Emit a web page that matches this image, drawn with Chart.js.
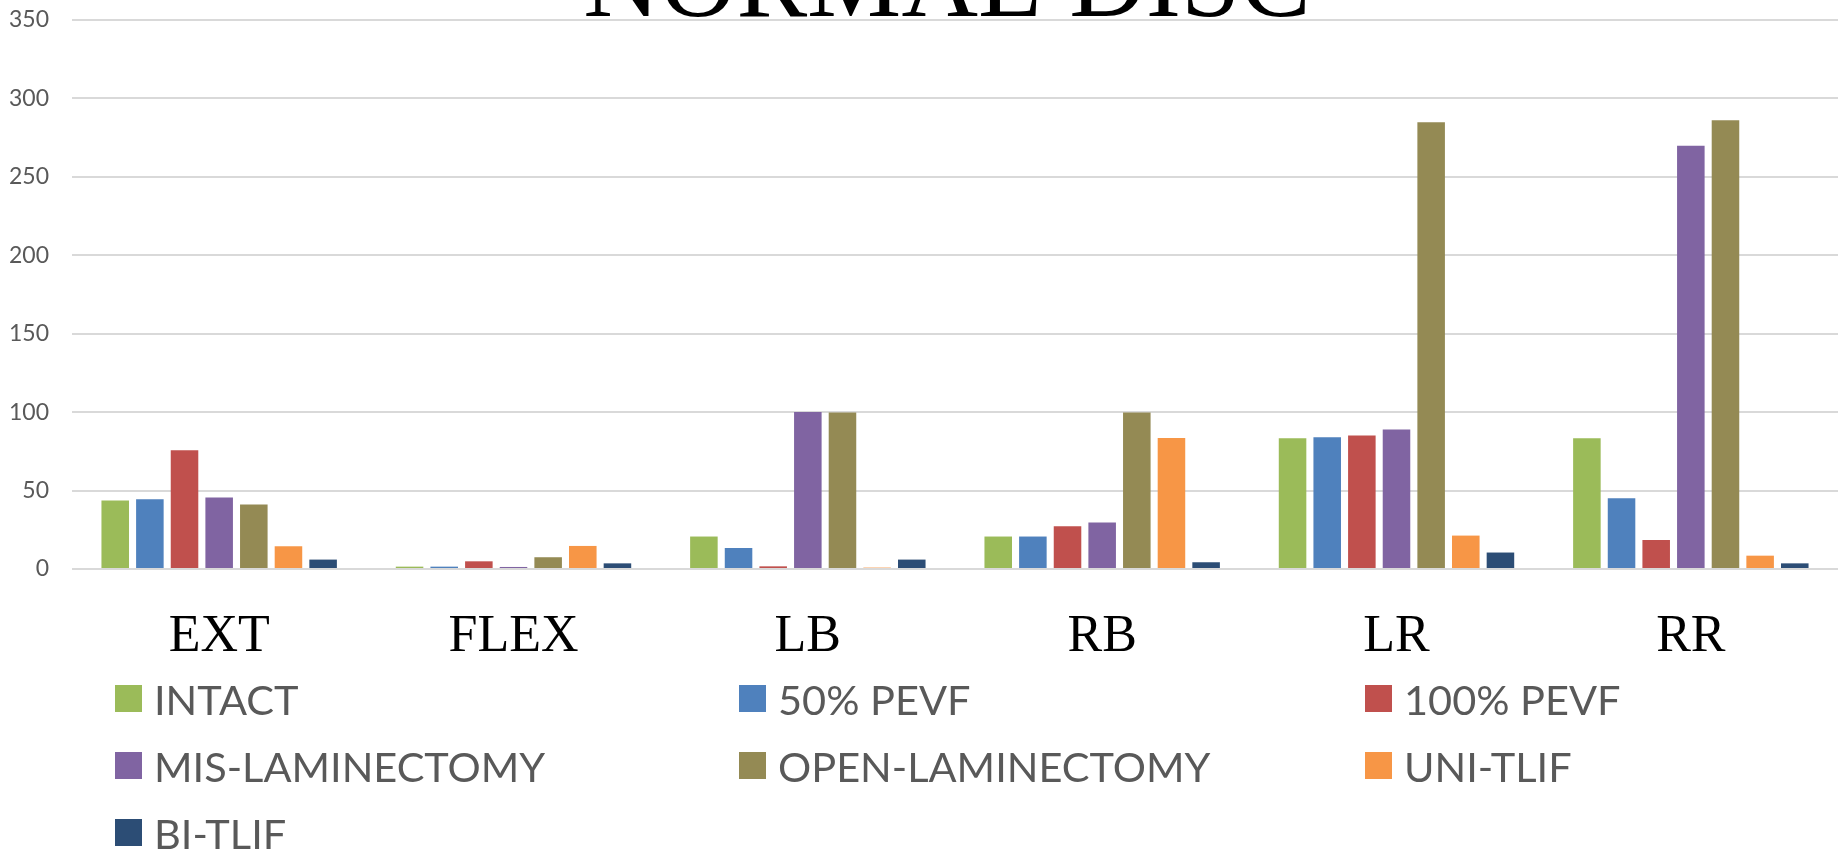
<!DOCTYPE html>
<html>
<head>
<meta charset="utf-8">
<script src="https://cdn.jsdelivr.net/npm/chart.js@4"></script>
<style>
  html, body { margin: 0; padding: 0; background: #fff; }
  #wrap { position: relative; width: 1845px; height: 849px; overflow: hidden; }
  #legend {
    position: absolute; left: 115px; top: 665px;
    display: grid; grid-template-columns: 624px 626px 400px; grid-auto-rows: 67px;
    font-family: Lato, "Liberation Sans", sans-serif;
    font-size: 41.5px; color: #595959;
  }
  .item { display: flex; align-items: center; white-space: nowrap; }
  .box { width: 27px; height: 27px; margin-right: 12px; flex: none; }
</style>
</head>
<body>
<div id="wrap">
  <canvas id="chart" width="1845" height="849"></canvas>
  <div id="legend"></div>
</div>
<script>
const categories = ['EXT', 'FLEX', 'LB', 'RB', 'LR', 'RR'];
const yTicks = [0, 50, 100, 150, 200, 250, 300, 350];

const intact = [43.6, 1.5, 20.7, 20.7, 83.3, 83.3];
const pevf50 = [44.4, 1.5, 13.4, 20.7, 84.0, 45.1];
const pevf100 = [75.7, 4.9, 1.7, 27.2, 85.1, 18.5];
const misLam = [45.6, 1.3, 100.1, 29.6, 89.0, 269.9];
const openLam = [41.1, 7.5, 99.7, 99.7, 284.8, 286.1];
const uniTlif = [14.5, 14.7, 0.9, 83.5, 21.3, 8.5];
const biTlif = [6.0, 3.6, 6.0, 4.3, 10.5, 3.6];

const series = [
    { label: 'INTACT', data: intact, color: '#9BBB59' },
    { label: '50% PEVF', data: pevf50, color: '#4F81BD' },
    { label: '100% PEVF', data: pevf100, color: '#C0504D' },
    { label: 'MIS-LAMINECTOMY', data: misLam, color: '#8064A2' },
    { label: 'OPEN-LAMINECTOMY', data: openLam, color: '#948A54' },
    { label: 'UNI-TLIF', data: uniTlif, color: '#F79646' },
    { label: 'BI-TLIF', data: biTlif, color: '#2C4D75' }
];

// title is cut off at the top in the original
const cutTitle = {
    id: 'cutTitle',
    afterDraw(chart) {
        const ctx = chart.ctx;
        ctx.save();
        ctx.font = '106px "Liberation Serif", "Times New Roman", serif';
        ctx.fillStyle = '#000';
        ctx.textAlign = 'center';
        ctx.textBaseline = 'alphabetic';
        ctx.fillText('NORMAL DISC', 947, 16);
        ctx.restore();
    }
};

const ctx = document.getElementById('chart').getContext('2d');
const chart = new Chart(ctx, {
    type: 'bar',
    data: {
        labels: categories,
        datasets: series.map(s => ({
            label: s.label,
            data: s.data,
            backgroundColor: s.color,
            borderWidth: 0,
            categoryPercentage: 0.824,
            barPercentage: 0.795
        }))
    },
    options: {
        responsive: false,
        animation: false,
        layout: { padding: { top: 20, right: 7, left: 0, bottom: 170 } },
        plugins: {
            legend: { display: false },
            tooltip: { enabled: false }
        },
        scales: {
            x: {
                grid: { display: false },
                border: { display: false },
                ticks: {
                    padding: 29,
                    color: '#000',
                    font: { family: '"Liberation Serif", "Times New Roman", serif', size: 52 }
                },
                afterFit: scale => { scale.height = 110; }
            },
            y: {
                min: 0,
                max: 350,
                afterBuildTicks: scale => { scale.ticks = yTicks.map(v => ({ value: v })); },
                grid: { color: '#D9D9D9', lineWidth: 2, drawTicks: false },
                border: { display: false },
                ticks: {
                    padding: 23,
                    color: '#595959',
                    font: { family: 'Lato, "Liberation Sans", sans-serif', size: 23 }
                },
                afterFit: scale => {
                    scale.width = 72;
                    scale.paddingTop = 0;
                    scale.paddingBottom = 0;
                }
            }
        }
    },
    plugins: [cutTitle]
});

const legend = document.getElementById('legend');
chart.data.datasets.forEach(ds => {
    const item = document.createElement('div');
    item.className = 'item';
    const box = document.createElement('span');
    box.className = 'box';
    box.style.background = ds.backgroundColor;
    const text = document.createElement('span');
    text.textContent = ds.label;
    item.appendChild(box);
    item.appendChild(text);
    legend.appendChild(item);
});
</script>
</body>
</html>
